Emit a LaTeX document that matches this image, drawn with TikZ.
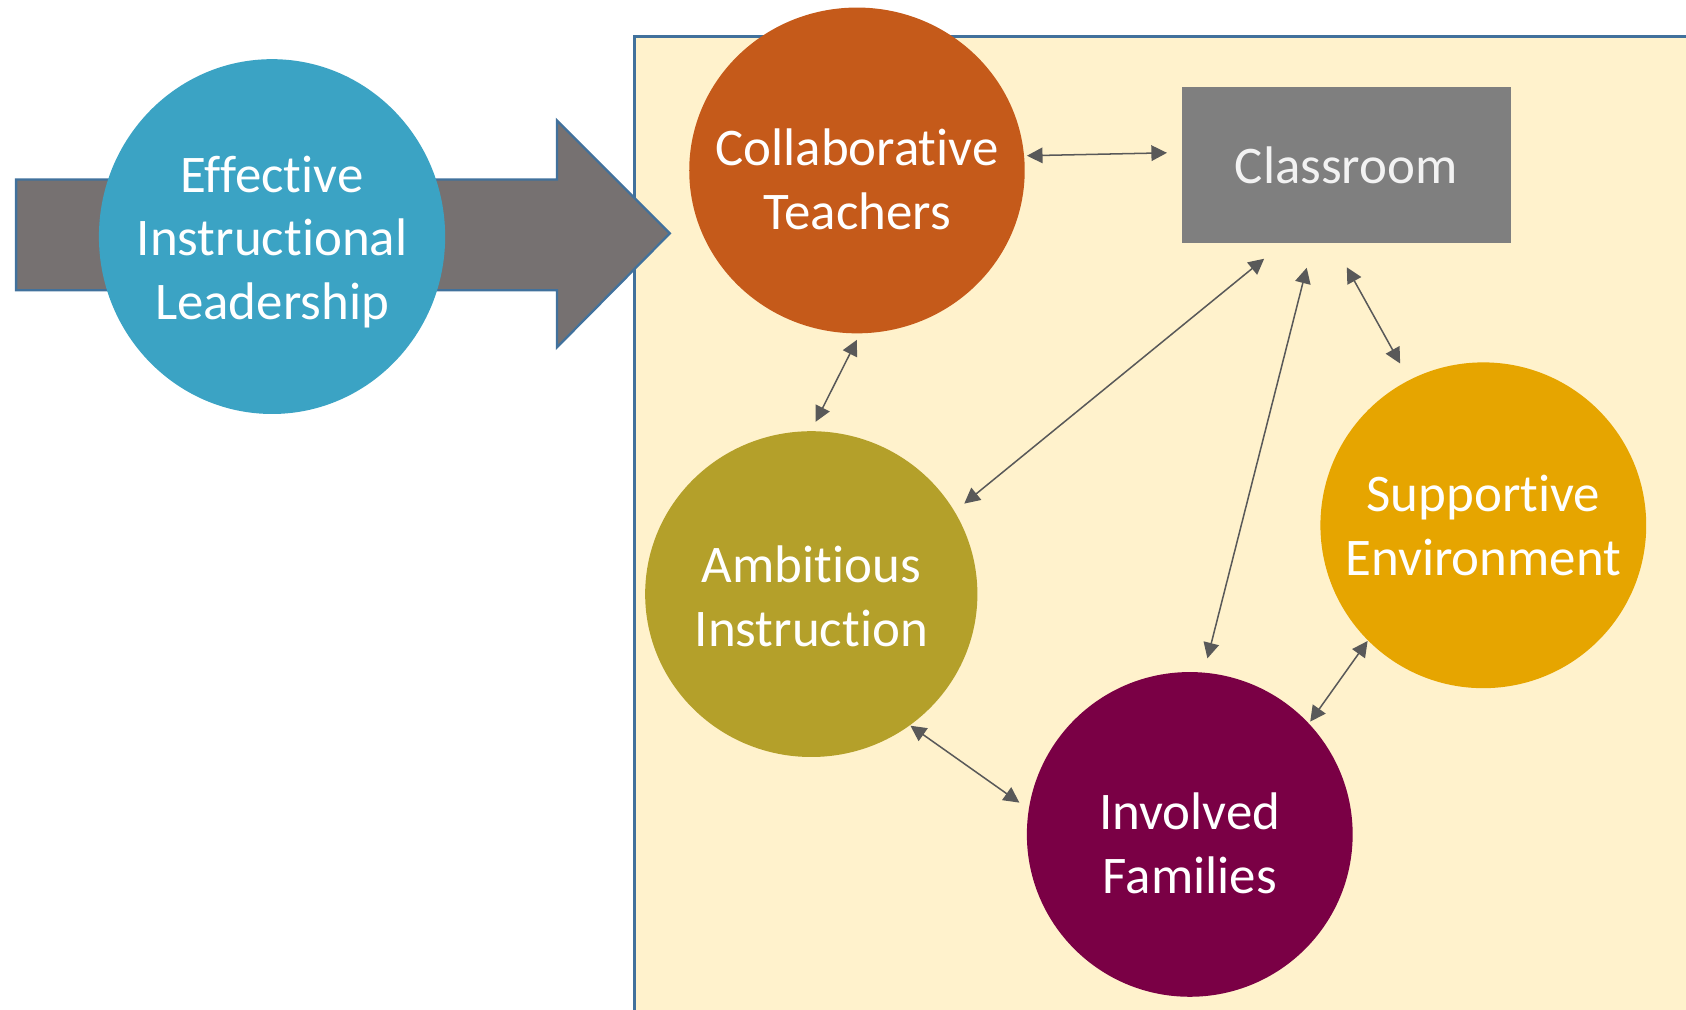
\documentclass[tikz,border=0pt]{standalone}
\usepackage{fontspec}
\setmainfont{Carlito}[Ligatures=NoCommon]
\usetikzlibrary{shapes.geometric,arrows.meta}
\definecolor{cream}{HTML}{FFF2CC}
\definecolor{boxblue}{HTML}{41719C}
\definecolor{arrowgray}{HTML}{767171}
\definecolor{eilblue}{HTML}{3BA3C4}
\definecolor{ctorange}{HTML}{C55A1A}
\definecolor{clsgray}{HTML}{7F7F7F}
\definecolor{clstext}{HTML}{F2F2F2}
\definecolor{aiolive}{HTML}{B4A02A}
\definecolor{seyellow}{HTML}{E6A500}
\definecolor{fampurple}{HTML}{7A0045}
\definecolor{conngray}{HTML}{595959}
\begin{document}
\begin{tikzpicture}[x=0.1mm,y=-0.1mm,
  blob/.style={ellipse, draw=none, inner sep=0pt},
  lbl/.style={text=white, align=center, inner sep=0pt, font=\fontsize{14}{16.9}\selectfont},
  conn/.style={draw=conngray, line width=0.4pt,
    {Triangle[length=1.45mm,width=1.45mm]}-{Triangle[length=1.45mm,width=1.45mm]}}]
\useasboundingbox (0,0) rectangle (1568,939);
\draw[draw=boxblue, line width=0.6pt, fill=cream] (590,34) rectangle (1600,1000);
\draw[draw=boxblue, line width=0.6pt, fill=arrowgray]
  (15,167) -- (518,167) -- (518,112) -- (623,217) -- (518,323) -- (518,270) -- (15,270) -- cycle;
\node[blob, fill=eilblue, minimum width=32.2mm, minimum height=33mm] (eil) at (253,220) {};
\node[lbl, yshift=-0.5mm] (eilt) at (eil) {Effective\\Instructional\\Leadership};
\node[blob, fill=ctorange, minimum width=31.2mm, minimum height=30.3mm] (ct) at (797,158.5) {};
\node[lbl, yshift=-0.8mm] (ctt) at (ct) {Collaborative\\Teachers};
\node[fill=clsgray, minimum width=30.6mm, minimum height=14.5mm, inner sep=0pt] (cls) at (1252,153.5) {};
\node[lbl, text=clstext] (clst) at (cls) {Classroom};
\node[blob, fill=aiolive, minimum width=30.9mm, minimum height=30.3mm] (ai) at (754.5,552.5) {};
\node[lbl, yshift=-0.2mm] (ait) at (ai) {Ambitious\\Instruction};
\node[blob, fill=seyellow, minimum width=30.3mm, minimum height=30.3mm] (se) at (1379.5,488.5) {};
\node[lbl] (set) at (se) {Supportive\\Environment};
\node[blob, fill=fampurple, minimum width=30.3mm, minimum height=30.2mm] (fam) at (1106.5,776) {};
\node[lbl, yshift=-0.8mm] (famt) at (fam) {Involved\\Families};
\draw[conn, shorten <=0.2mm, shorten >=1.3mm] (ct.5) -- ([yshift=0.3mm]cls.west |- ct.5);
\draw[conn, shorten <=0.6mm, shorten >=0.9mm] (ct.271) -- (ai.north);
\draw[conn, shorten <=2.2mm, shorten >=1.1mm] (cls.231) -- (ai.30);
\draw[conn, shorten <=2.3mm, shorten >=1.3mm] (cls.247) -- (fam.85);
\draw[conn, shorten <=2.5mm, shorten >=1.7mm] (cls.261) -- (se.117);
\draw[conn, shorten >=1mm] (ai.307) -- (fam.171);
\draw[conn, shorten <=0.15mm] (fam.43) -- (se.225);
\end{tikzpicture}
\end{document}
